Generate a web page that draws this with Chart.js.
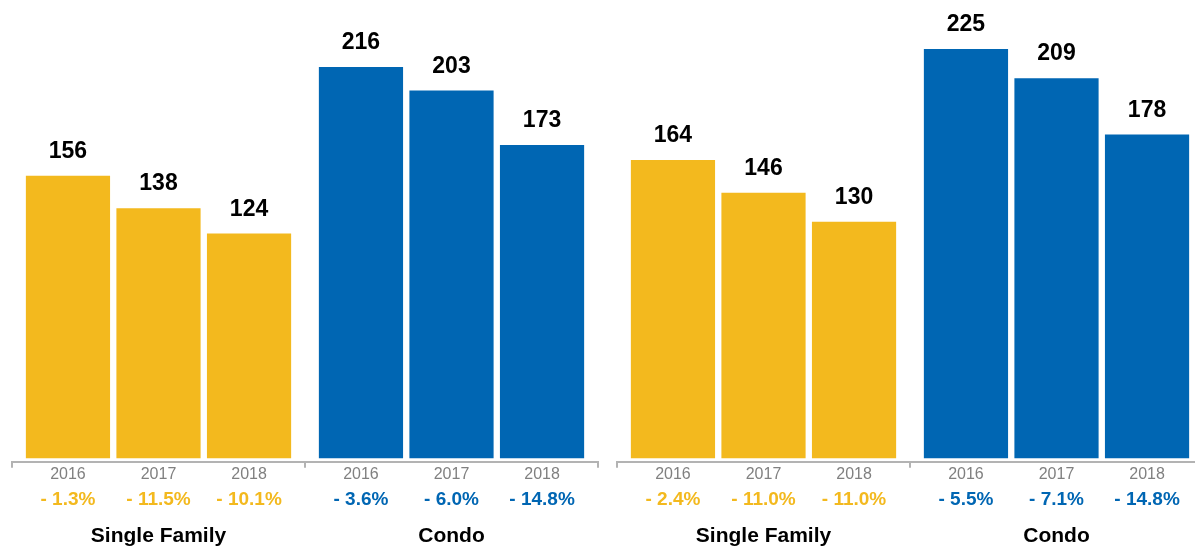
<!DOCTYPE html>
<html>
<head>
<meta charset="utf-8">
<script src="https://cdn.jsdelivr.net/npm/chart.js@4"></script>
<style>
  html, body { margin: 0; padding: 0; background: #fff; overflow: hidden; }
  body { width: 1195px; height: 549px; position: relative; }
  /* taller than the page: the axis reserves tick padding twice, the spare part is clipped */
  .panel { position: absolute; top: 0; width: 605px; height: 607px; }
  #left-panel { left: 0; }
  #right-panel { left: 605px; }
</style>
</head>
<body>
<div class="panel" id="left-panel"><canvas id="left-chart"></canvas></div>
<div class="panel" id="right-panel"><canvas id="right-chart"></canvas></div>
<script>
// ==== Data ====
const groups = ["Single Family", "Condo"];
const years = ["2016", "2017", "2018"];

// left panel
const leftSingleFamily = [156, 138, 124];
const leftCondo = [216, 203, 173];
const leftSingleFamilyChange = [-1.3, -11.5, -10.1];
const leftCondoChange = [-3.6, -6.0, -14.8];

// right panel
const rightSingleFamily = [164, 146, 130];
const rightCondo = [225, 209, 178];
const rightSingleFamilyChange = [-2.4, -11.0, -11.0];
const rightCondoChange = [-5.5, -7.1, -14.8];

const YELLOW = "#f3b91e";
const BLUE = "#0066b3";
const GREY = "#b3b3b3";
const FONT = "'Liberation Sans', Arial, Helvetica, sans-serif";

function fmtChange(v) {
  return (v < 0 ? "- " : "+ ") + Math.abs(v).toFixed(1) + "%";
}

// ==== Labels: value on top, year + change below each bar ====
const barLabels = {
  id: "barLabels",
  afterDatasetsDraw(chart, args, opts) {
    const ctx = chart.ctx;
    const bottom = chart.chartArea.bottom;
    ctx.save();
    ctx.textAlign = "center";
    chart.data.datasets.forEach((ds, i) => {
      const meta = chart.getDatasetMeta(i);
      meta.data.forEach((bar, j) => {
        // value above bar
        ctx.fillStyle = "#000";
        ctx.font = "bold 23px " + FONT;
        ctx.textBaseline = "alphabetic";
        ctx.fillText(String(ds.data[j]), bar.x, bar.y - 18);

        // year
        ctx.fillStyle = "#808080";
        ctx.font = "16px " + FONT;
        ctx.textBaseline = "middle";
        ctx.fillText(years[i], bar.x, bottom + 12.5);

        // yearly change
        ctx.fillStyle = j === 0 ? YELLOW : BLUE;
        ctx.font = "bold 19px " + FONT;
        ctx.fillText(fmtChange(opts.changes[j][i]), bar.x, bottom + 37.5);
      });
    });
    ctx.restore();
  }
};

function createPanel(canvasId, singleFamily, condo, sfChange, condoChange, yMax) {
  const datasets = years.map((y, i) => ({
    label: y,
    data: [singleFamily[i], condo[i]],
    backgroundColor: [YELLOW, BLUE],
    borderWidth: 0,
    categoryPercentage: 0.927,
    barPercentage: 0.93
  }));

  return new Chart(document.getElementById(canvasId), {
    type: "bar",
    data: { labels: groups, datasets: datasets },
    options: {
      responsive: true,
      maintainAspectRatio: false,
      animation: false,
      devicePixelRatio: 1,
      layout: { padding: { left: 12, right: 7, top: 0, bottom: 2 } },
      plugins: {
        legend: { display: false },
        tooltip: { enabled: false },
        barLabels: { changes: [sfChange, condoChange] }
      },
      scales: {
        x: {
          grid: {
            offset: true,
            drawOnChartArea: false,
            drawTicks: true,
            tickLength: 6,
            color: GREY,
            lineWidth: 2
          },
          border: { display: true, color: GREY, width: 2 },
          ticks: {
            color: "#000",
            padding: 56,
            font: { family: FONT, size: 21, weight: "bold" }
          }
        },
        y: { display: false, min: -2, max: yMax }
      }
    },
    plugins: [barLabels]
  });
}

createPanel("left-chart", leftSingleFamily, leftCondo,
  leftSingleFamilyChange, leftCondoChange, 253);
createPanel("right-chart", rightSingleFamily, rightCondo,
  rightSingleFamilyChange, rightCondoChange, 252);
</script>
</body>
</html>
